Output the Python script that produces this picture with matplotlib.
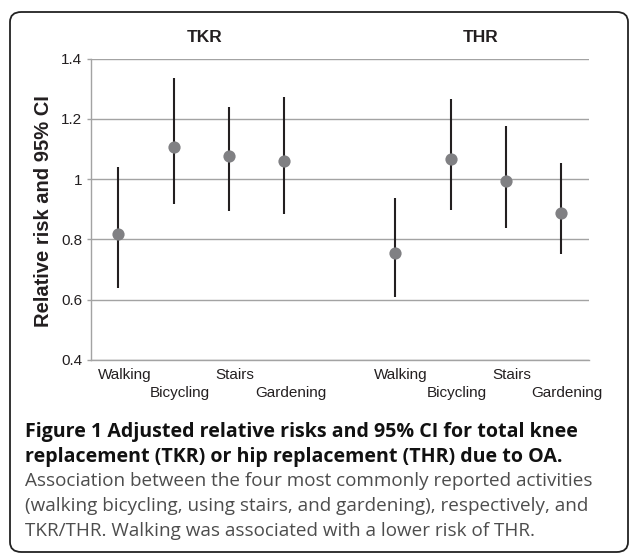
import matplotlib
matplotlib.use("Agg")
import matplotlib.pyplot as plt
import matplotlib.transforms as mtransforms
from matplotlib.patches import FancyBboxPatch

# Relative risk (point) and 95% CI per activity, TKR then THR
activities = ["Walking", "Bicycling", "Stairs", "Gardening"]
groups = ["TKR", "THR"]
tkr_rr = [0.817, 1.107, 1.077, 1.059]
tkr_lo = [0.640, 0.918, 0.895, 0.884]
tkr_hi = [1.042, 1.335, 1.239, 1.274]
thr_rr = [0.756, 1.067, 0.994, 0.889]
thr_lo = [0.610, 0.898, 0.839, 0.751]
thr_hi = [0.937, 1.266, 1.177, 1.053]

y_ticks = [0.4, 0.6, 0.8, 1.0, 1.2, 1.4]
y_tick_labels = ["0.4", "0.6", "0.8", "1", "1.2", "1.4"]

caption_bold = [
    "Figure 1 Adjusted relative risks and 95% CI for total knee",
    "replacement (TKR) or hip replacement (THR) due to OA.",
]
caption_body = [
    "Association between the four most commonly reported activities",
    "(walking bicycling, using stairs, and gardening), respectively, and",
    "TKR/THR. Walking was associated with a lower risk of THR.",
]

plt.rcParams["font.family"] = ["Liberation Sans", "DejaVu Sans"]

fig = plt.figure(figsize=(6.29, 5.54), dpi=100)
ax = fig.add_axes([0.1442, 0.3502, 0.7922, 0.5438])

# categorical slots: group 1 at 0..3, empty slot 4, group 2 at 5..8
x_tkr = list(range(len(activities)))
x_thr = [i + len(activities) + 1 for i in range(len(activities))]

line_col = "#231f20"
dot_col = "#808083"
grid_col = "#a3a3a3"

for xs, rr, lo, hi in [(x_tkr, tkr_rr, tkr_lo, tkr_hi), (x_thr, thr_rr, thr_lo, thr_hi)]:
    ax.vlines(xs, lo, hi, color=line_col, lw=1.5, zorder=3)
    ax.plot(xs, rr, "o", ms=8.8, color=dot_col, mec="none", zorder=4)

ax.set_xlim(-0.5, 8.5)
ax.set_ylim(0.4, 1.4)
ax.set_yticks(y_ticks)
ax.set_yticklabels(y_tick_labels)
ax.grid(axis="y", color=grid_col, lw=1.0)
ax.set_axisbelow(True)

for side in ["top", "right"]:
    ax.spines[side].set_visible(False)
for side in ["left", "bottom"]:
    ax.spines[side].set_color(grid_col)
    ax.spines[side].set_linewidth(1.0)

ax.tick_params(axis="y", length=3, width=1.0, color=grid_col, pad=3,
               labelsize=11, labelcolor=line_col)
ax.tick_params(axis="x", length=0, labelsize=11, labelcolor=line_col)

ax.set_xticks(x_tkr + x_thr)
ax.set_xticklabels(activities + activities)
shift = mtransforms.ScaledTranslation(6 / 100, 0, fig.dpi_scale_trans)
for i, tick in enumerate(ax.xaxis.get_major_ticks()):
    tick.set_pad(6 if i % 2 == 0 else 18.5)
    tick.label1.set_transform(tick.label1.get_transform() + shift)

trans = ax.get_xaxis_transform()
for name, xs in zip(groups, [x_tkr, x_thr]):
    ax.text(sum(xs) / len(xs) + 0.05, 1.071, name, transform=trans, ha="center",
            va="center", fontsize=12.5, fontweight="bold", color=line_col)

fig.text(43.3 / 629, 1 - 211.3 / 554, "Relative risk and 95% CI", rotation=90,
         ha="center", va="center", fontsize=14.5, fontweight="bold", color=line_col)

# caption: one size per style, chosen so the lines span about the original widths
cap_font = ["Open Sans", "DejaVu Sans"]
renderer = fig.canvas.get_renderer()


def fitted_size(lines, weight, target_px, base=12.0):
    total = 0
    for line in lines:
        t = fig.text(0, 0, line, fontsize=base, fontweight=weight, family=cap_font)
        total += t.get_window_extent(renderer).width
        t.remove()
    return base * target_px / total


bold_size = fitted_size(caption_bold, "bold", 578 + 508)
body_size = fitted_size(caption_body, "normal", 580 + 551 + 505)

cap_y = [431.7, 456.7]
for txt, yy in zip(caption_bold, cap_y):
    fig.text(25 / 629, 1 - yy / 554, txt, ha="left", va="center",
             fontsize=bold_size, fontweight="bold", family=cap_font, color="#111111")
body_y = [481, 506, 531]
for txt, yy in zip(caption_body, body_y):
    fig.text(25 / 629, 1 - yy / 554, txt, ha="left", va="center",
             fontsize=body_size, family=cap_font, color="#4d4d4d")

# rounded frame around the whole panel
frame = FancyBboxPatch((10 / 629, 2 / 554), 618 / 629, 1 - 14 / 554,
                       boxstyle="round,pad=0,rounding_size=0.018",
                       transform=fig.transFigure, fill=False,
                       ec="#222222", lw=1.3, clip_on=False)
fig.patches.append(frame)

fig.savefig("out.png", dpi=100)
